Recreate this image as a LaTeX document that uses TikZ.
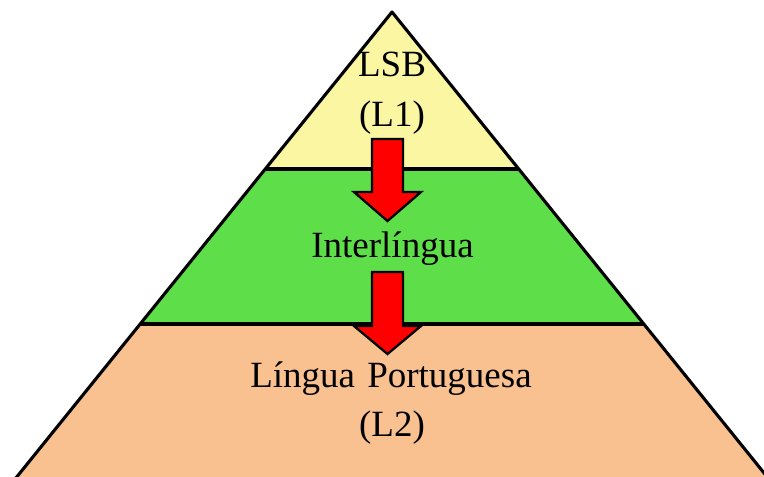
\documentclass[tikz,border=0pt]{standalone}
\usepackage{fontspec}
\setmainfont{Liberation Serif}
\definecolor{lyellow}{RGB}{250,246,162}
\definecolor{lgreen}{RGB}{94,223,74}
\definecolor{lpeach}{RGB}{249,192,144}
\definecolor{ared}{RGB}{255,0,0}
\tikzset{
  band/.style={line width=3.1pt, line join=round},
  blockarrow/.style={fill=ared, draw=black, line width=2.3pt, line join=miter},
  lbl/.style={anchor=base, inner sep=0pt, font=\fontsize{37}{40}\selectfont, text=black}
}
\begin{document}
\begin{tikzpicture}[x=1pt,y=-1pt]
\useasboundingbox (0,0) rectangle (764,477);
\clip (0,0) rectangle (764,477);
% apex and slope
\coordinate (apex) at (392,12);
% bands
\fill[lyellow] (apex) -- (265.3,169) -- (518.7,169) -- cycle;
\fill[lgreen] (265.3,169) -- (140.2,324) -- (643.8,324) -- (518.7,169) -- cycle;
\fill[lpeach] (140.2,324) -- (0,497.7) -- (784,497.7) -- (643.8,324) -- cycle;
\draw[band] (265.3,169) -- (518.7,169);
\draw[band] (140.2,324) -- (643.8,324);
\draw[band] (0,497.7) -- (apex) -- (784,497.7);
% block arrows
\draw[blockarrow] (372,139) -- (403,139) -- (403,192) -- (421,192) -- (387.5,221) -- (354,192) -- (372,192) -- cycle;
\draw[blockarrow] (372,272) -- (403,272) -- (403,326) -- (421,326) -- (387.5,354) -- (354,326) -- (372,326) -- cycle;
% labels
\node[lbl] (lsb) at (392,76) {LSB};
\node[lbl] (l1) at (392,126) {(L1)};
\node[lbl] (inter) at (392.5,257) {Interlíngua};
\node[lbl] (lp) at (391,387) {Língua\hspace{0.33em}Portuguesa};
\node[lbl] (l2) at (392,436) {(L2)};
\end{tikzpicture}
\end{document}
